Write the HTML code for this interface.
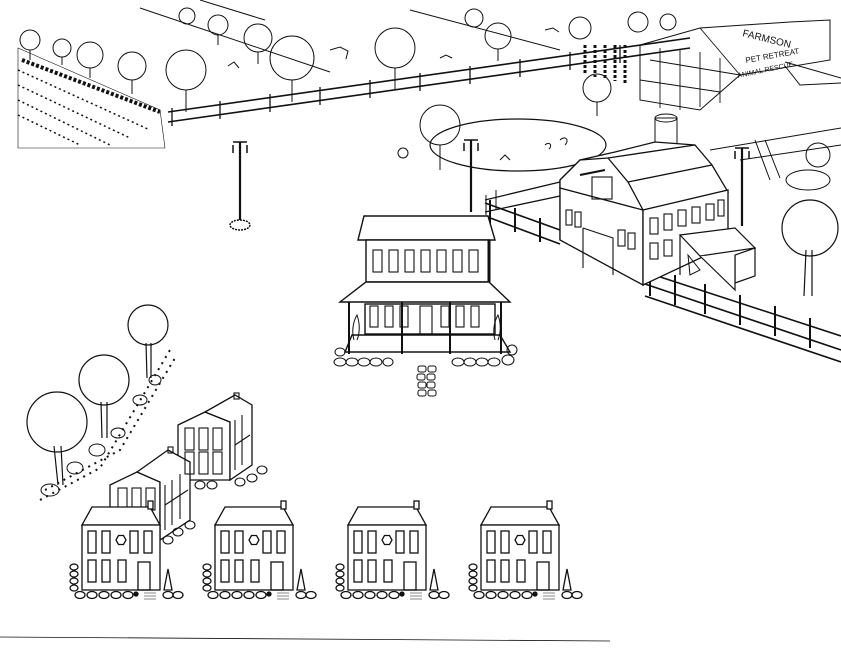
<!DOCTYPE html>
<html><head><meta charset="utf-8"><style>
html,body{margin:0;padding:0;background:#fff;}
svg{display:block;}
text{font-family:"Liberation Sans",sans-serif;}
</style></head><body>
<svg width="841" height="650" viewBox="0 0 841 650" xmlns="http://www.w3.org/2000/svg" fill="none" stroke="#111" stroke-width="1.3">
<defs>
<g id="house">
  <polygon points="10,0 68,0 78,18 0,18" fill="#fff"/>
  <rect x="66" y="-6" width="5" height="8" fill="#fff"/>
  <rect x="0" y="18" width="78" height="65" fill="#fff"/>
  <rect x="6" y="24" width="8" height="22"/><rect x="20" y="24" width="8" height="22"/>
  <rect x="48" y="24" width="8" height="22"/><rect x="62" y="24" width="8" height="22"/>
  <polygon points="34,33 36.5,28.5 41.5,28.5 44,33 41.5,37.5 36.5,37.5"/>
  <rect x="6" y="53" width="8" height="22"/><rect x="20" y="53" width="8" height="22"/>
  <rect x="36" y="53" width="8" height="22"/><rect x="56" y="55" width="12" height="28"/>
  <path d="M82,83 L86,62 L90,83 Z"/>
  <ellipse cx="-8" cy="60" rx="4" ry="3"/><ellipse cx="-8" cy="67" rx="4" ry="3"/><ellipse cx="-8" cy="74" rx="4" ry="3"/><ellipse cx="-8" cy="81" rx="4" ry="3"/>
  <ellipse cx="-2" cy="88" rx="5" ry="3.5"/><ellipse cx="10" cy="88" rx="5" ry="3.5"/><ellipse cx="22" cy="88" rx="5" ry="3.5"/><ellipse cx="34" cy="88" rx="5" ry="3.5"/><ellipse cx="46" cy="88" rx="5" ry="3.5"/>
  <circle cx="54" cy="87" r="2" fill="#111"/>
  <ellipse cx="86" cy="88" rx="5" ry="3.5"/><ellipse cx="96" cy="88" rx="5" ry="3.5"/>
  <path d="M62,86 h12 M62,89 h12 M62,92 h12" stroke-width="0.6"/>
</g>
</defs>
<rect width="841" height="650" fill="#fff" stroke="none"/>

<path d="M0,637 L610,641" stroke-width="0.8"/>

<!-- top-left field -->
<path d="M18,48 L160,110 L165,148 L18,148 Z" stroke-width="0.6"/>
<path d="M18,70 L150,130 M18,85 L130,138 M18,100 L110,145 M18,115 L80,145" stroke-width="1.5" stroke-dasharray="2 3"/>
<path d="M22,60 L160,112" stroke-width="4" stroke-dasharray="3 2"/>
<path d="M140,8 L330,72 M410,10 L560,50 M200,0 L265,20" stroke-width="1"/>
<!-- back fence -->
<path d="M168,112 L690,38 M168,122 L690,48" stroke-width="1.6"/>
<path d="M172,108 v18 M220,101 v18 M270,94 v18 M320,87 v18 M370,80 v18 M420,73 v18 M470,66 v18 M520,59 v18 M570,52 v18 M620,45 v18" stroke-width="1.3"/>
<g stroke-width="1">
<circle cx="30" cy="40" r="10"/><path d="M30,50 v10"/>
<circle cx="62" cy="48" r="9"/><path d="M62,57 v8"/>
<circle cx="90" cy="55" r="13"/><path d="M90,68 v10"/>
<circle cx="132" cy="66" r="14"/><path d="M132,80 v14"/>
<circle cx="186" cy="70" r="20"/><path d="M186,90 v22"/>
<circle cx="292" cy="58" r="22"/><path d="M292,80 v22"/>
<circle cx="258" cy="38" r="14"/><path d="M258,52 v12"/>
<circle cx="218" cy="25" r="10"/><path d="M218,35 v10"/>
<circle cx="187" cy="16" r="8"/>
<circle cx="395" cy="48" r="20"/><path d="M395,68 v22"/>
<circle cx="498" cy="36" r="13"/><path d="M498,49 v12"/>
<circle cx="474" cy="18" r="9"/>
<circle cx="580" cy="28" r="11"/>
<circle cx="638" cy="22" r="10"/><circle cx="668" cy="22" r="8"/>
<circle cx="597" cy="88" r="14"/><path d="M597,102 v14"/>
<circle cx="440" cy="125" r="20"/><path d="M440,145 v25"/>
</g>
<path d="M330,50 l10,-3 l8,4 l-2,8 M228,66 l6,-4 l5,6 M545,30 l8,-2 l6,4 M440,58 l6,-3 l6,3" stroke-width="1"/>
<path d="M585,45 v30 M595,45 v32 M605,45 v34 M615,45 v36 M625,45 v38" stroke-width="3" stroke-dasharray="3 2"/>
<!-- pen building -->
<path d="M640,45 L700,28 L790,22 L830,20 L830,60 L740,75 L700,110 L640,100 Z" stroke-width="1"/>
<path d="M700,28 L740,75 M650,60 L740,75 M640,80 L720,92 M660,48 v60 M680,50 v60 M700,52 v55 M720,58 v45" stroke-width="0.9"/>
<text x="742" y="36" font-size="10" fill="#111" stroke="none" transform="rotate(14 742 36)">FARMSON</text>
<text x="746" y="63" font-size="8" fill="#111" stroke="none" transform="rotate(-10 746 63)">PET RETREAT</text>
<text x="738" y="78" font-size="7" fill="#111" stroke="none" transform="rotate(-12 738 78)">ANIMAL RESCUE</text>
<path d="M785,62 L841,78 M785,66 L800,85 L841,83" stroke-width="1"/>

<ellipse cx="518" cy="145" rx="88" ry="26" stroke-width="1.2"/>
<path d="M560,140 c5,-5 10,0 5,5 M545,145 c4,-4 8,0 4,4 M500,160 l5,-5 5,5" stroke-width="1"/>
<circle cx="403" cy="153" r="5" stroke-width="1"/>
<rect x="655" y="118" width="22" height="26" stroke-width="1"/>
<ellipse cx="666" cy="118" rx="11" ry="4" stroke-width="1"/>
<path d="M710,150 L841,128 M740,160 L841,145" stroke-width="1"/>
<path d="M755,140 L770,180 M765,140 L780,178" stroke-width="1"/>
<ellipse cx="808" cy="180" rx="22" ry="10" stroke-width="1"/>
<circle cx="818" cy="155" r="12" stroke-width="1"/>

<g stroke-width="2.2">
<path d="M240,142 v78 M471,140 v72 M742,148 v78"/>
</g>
<path d="M233,145 v8 M247,145 v8 M464,143 v8 M478,143 v8 M735,151 v8 M749,151 v8 M233,142 h14 M464,140 h14 M735,148 h14" stroke-width="1.5"/>
<ellipse cx="240" cy="225" rx="10" ry="5" stroke-width="1.5" stroke-dasharray="2 1"/>

<path d="M485,200 L560,182 M485,212 L560,196" stroke-width="1.3"/>
<path d="M485,203 L560,230 M485,216 L560,244" stroke-width="1.6"/>
<path d="M645,272 L841,336 M645,284 L841,350 M645,296 L841,362" stroke-width="1.6"/>
<path d="M490,200 v24 M515,208 v24 M540,218 v24 M650,266 v30 M675,275 v30 M705,284 v30 M740,295 v30 M775,306 v30 M810,318 v30" stroke-width="2"/>
<path d="M486,195 v20 M496,190 v20" stroke-width="1"/>

<g fill="#fff" stroke-width="1.3">
<polygon points="560,180 580,160 615,152 655,142 695,145 712,165 728,192 643,210 560,188"/>
<polygon points="560,180 580,160 608,158 628,182 643,210 640,260 560,240"/>
<path d="M560,188 L560,240 L643,285 L643,210 Z"/>
<polygon points="643,210 728,190 728,245 643,285"/>
<path d="M608,158 L695,145 M628,182 L712,165" fill="none"/>
</g>
<rect x="592" y="177" width="20" height="22" stroke-width="1.1"/>
<path d="M580,175 L605,170" stroke-width="2"/>
<g stroke-width="1.1">
<rect x="566" y="210" width="6" height="15"/><rect x="575" y="212" width="6" height="15"/>
<path d="M583,228 L583,268 M583,228 L613,238 L613,275"/>
<rect x="618" y="230" width="7" height="16"/><rect x="628" y="233" width="7" height="16"/>
<rect x="650" y="218" width="8" height="16"/><rect x="664" y="214" width="8" height="16"/>
<rect x="678" y="210" width="8" height="16"/><rect x="692" y="207" width="8" height="16"/>
<rect x="706" y="204" width="8" height="16"/><rect x="718" y="200" width="6" height="16"/>
<rect x="650" y="243" width="8" height="16"/><rect x="664" y="240" width="8" height="16"/>
</g>
<g fill="#fff" stroke-width="1.2">
<polygon points="680,235 735,228 755,248 700,256"/>
<polygon points="735,283 755,276 755,248 735,255"/>
<path d="M680,235 L680,275 M700,256 L735,290 L735,255"/>
</g>
<path d="M688,255 l12,15 l-10,5 z" stroke-width="1"/>

<circle cx="810" cy="228" r="28" stroke-width="1.2"/>
<path d="M806,250 L804,296 M812,250 L812,296" stroke-width="1.2"/>

<g fill="#fff" stroke-width="1.4">
<polygon points="364,216 488,216 495,240 358,240"/>
<rect x="366" y="240" width="123" height="42"/>
<path d="M489,240 L489,282" fill="none" stroke-width="3"/>
<polygon points="366,282 489,282 510,302 340,302"/>
<rect x="365" y="304" width="130" height="30"/>
<path d="M352,335 L500,335 L510,352 L345,352 Z"/>
</g>
<g stroke-width="1.1">
<rect x="373" y="250" width="9" height="22"/><rect x="389" y="250" width="9" height="22"/><rect x="405" y="250" width="9" height="22"/><rect x="421" y="250" width="9" height="22"/><rect x="437" y="250" width="9" height="22"/><rect x="453" y="250" width="9" height="22"/><rect x="469" y="250" width="9" height="22"/>
<rect x="370" y="306" width="8" height="21"/><rect x="385" y="306" width="8" height="21"/><rect x="400" y="306" width="8" height="21"/>
<rect x="420" y="306" width="12" height="28"/>
<rect x="441" y="306" width="8" height="21"/><rect x="456" y="306" width="8" height="21"/><rect x="471" y="306" width="8" height="21"/>
</g>
<path d="M349,302 v52 M402,302 v52 M450,302 v52 M501,302 v52" stroke-width="2"/>
<g stroke-width="1">
<ellipse cx="340" cy="362" rx="6" ry="4"/><ellipse cx="352" cy="362" rx="6" ry="4"/><ellipse cx="364" cy="362" rx="6" ry="4"/><ellipse cx="376" cy="362" rx="6" ry="4"/><ellipse cx="388" cy="362" rx="5" ry="4"/>
<ellipse cx="458" cy="362" rx="6" ry="4"/><ellipse cx="470" cy="362" rx="6" ry="4"/><ellipse cx="482" cy="362" rx="6" ry="4"/><ellipse cx="494" cy="362" rx="6" ry="4"/><ellipse cx="508" cy="360" rx="6" ry="5"/><ellipse cx="512" cy="350" rx="5" ry="5"/><ellipse cx="340" cy="352" rx="5" ry="4"/>
<rect x="418" y="366" width="8" height="6" rx="2"/><rect x="428" y="366" width="8" height="6" rx="2"/>
<rect x="417" y="374" width="8" height="6" rx="2"/><rect x="427" y="374" width="8" height="6" rx="2"/>
<rect x="418" y="382" width="8" height="6" rx="2"/><rect x="427" y="382" width="8" height="6" rx="2"/>
<rect x="418" y="390" width="8" height="6" rx="2"/><rect x="428" y="390" width="8" height="6" rx="2"/>
<path d="M354,340 c-3,-10 0,-20 3,-25 c3,8 3,18 0,25 M495,340 c-3,-10 0,-20 3,-25 c3,8 3,18 0,25"/>
</g>

<g stroke-width="1.2">
<circle cx="57" cy="422" r="30"/><path d="M54,446 L58,485 M61,446 L63,485"/>
<circle cx="104" cy="380" r="25"/><path d="M101,402 L102,438 M107,402 L107,438"/>
<circle cx="148" cy="325" r="20"/><path d="M146,343 L147,378 M151,343 L151,378"/>
</g>
<path d="M40,500 L100,468 L170,350 M45,490 L120,450 L175,358" stroke-width="2" stroke-dasharray="2 5"/>
<g stroke-width="1">
<ellipse cx="97" cy="450" rx="8" ry="6"/><ellipse cx="118" cy="433" rx="7" ry="5"/><ellipse cx="140" cy="400" rx="7" ry="5"/><ellipse cx="75" cy="468" rx="8" ry="6"/><ellipse cx="50" cy="490" rx="9" ry="6"/><ellipse cx="155" cy="380" rx="6" ry="5"/>
</g>

<g fill="#fff" stroke-width="1.3">
<polygon points="178,425 205,412 230,422 230,480 178,480"/>
<polygon points="205,412 235,395 252,405 252,465 230,480 230,422"/>
<polygon points="110,485 137,472 160,482 160,540 110,540"/>
<polygon points="137,472 168,450 190,462 190,520 160,540 160,482"/>
</g>
<g stroke-width="1.1">
<rect x="185" y="428" width="9" height="22"/><rect x="199" y="428" width="9" height="22"/><rect x="213" y="428" width="9" height="22"/>
<rect x="185" y="452" width="9" height="22"/><rect x="199" y="452" width="9" height="22"/><rect x="213" y="452" width="9" height="22"/>
<path d="M235,420 v50 M242,415 v50 M235,445 L250,435"/>
<rect x="118" y="488" width="9" height="22"/><rect x="132" y="488" width="9" height="22"/><rect x="146" y="488" width="9" height="22"/>
<path d="M165,485 v45 M172,480 v45 M180,474 v45 M165,505 L188,490"/>
<rect x="234" y="393" width="5" height="6"/><rect x="168" y="447" width="5" height="6"/>
<ellipse cx="240" cy="482" rx="5" ry="4"/><ellipse cx="252" cy="478" rx="5" ry="4"/><ellipse cx="262" cy="470" rx="5" ry="4"/>
<ellipse cx="168" cy="540" rx="5" ry="4"/><ellipse cx="178" cy="532" rx="5" ry="4"/><ellipse cx="190" cy="525" rx="5" ry="4"/>
<ellipse cx="200" cy="485" rx="5" ry="4"/><ellipse cx="212" cy="485" rx="5" ry="4"/>
</g>

<use href="#house" x="82" y="507"/>
<use href="#house" x="215" y="507"/>
<use href="#house" x="348" y="507"/>
<use href="#house" x="481" y="507"/>
</svg>
</body></html>
